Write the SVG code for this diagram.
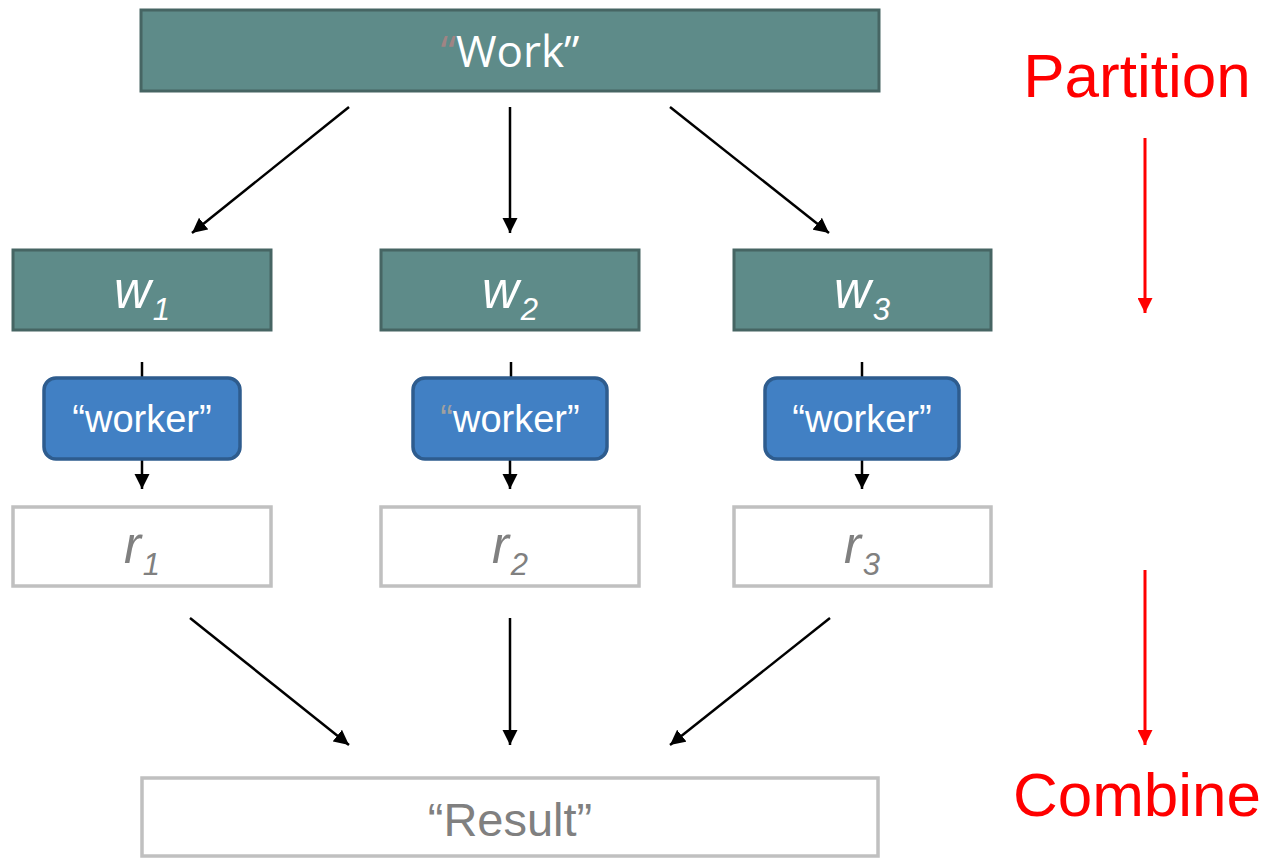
<svg xmlns="http://www.w3.org/2000/svg" width="1270" height="858" viewBox="0 0 1270 858">
<defs>
<marker id="ah" viewBox="0 0 10 10" refX="10" refY="5" markerWidth="6" markerHeight="6.6" markerUnits="strokeWidth" orient="auto">
<path d="M0,0 L10,5 L0,10 z" fill="#000"/>
</marker>
<marker id="ahr" viewBox="0 0 10 10" refX="10" refY="5" markerWidth="5" markerHeight="5" markerUnits="strokeWidth" orient="auto">
<path d="M0,0 L10,5 L0,10 z" fill="#ff0000"/>
</marker>
</defs>
<style>
.teal{fill:#5e8b89;stroke:#466563;stroke-width:3}
.blue{fill:#4180c4;stroke:#2e5c8e;stroke-width:3.5}
.gray{fill:#fff;stroke:#c0c0c0;stroke-width:3.5}
.t{font-family:"Liberation Sans",Arial,sans-serif;text-anchor:middle}
.wt{fill:#fff;font-style:italic;font-size:51px}
.rt{fill:#808080;font-style:italic;font-size:51px}
.sub{font-size:31px}
.wk{fill:#fff;font-size:38px}
.red{fill:#ff0000;font-size:62px}
.con{stroke:#000;stroke-width:2.5;fill:none;marker-end:url(#ah)}
.plain{stroke:#000;stroke-width:2.5;fill:none}
.rcon{stroke:#ff0000;stroke-width:3;fill:none;marker-end:url(#ahr)}
</style>
<rect width="1270" height="858" fill="#fff"/>

<g id="connectors">
<line class="con" x1="349" y1="107" x2="192" y2="233"/>
<line class="con" x1="510" y1="107" x2="510" y2="233"/>
<line class="con" x1="670" y1="107" x2="829" y2="233"/>
<line class="plain" x1="142" y1="362" x2="142" y2="378"/>
<line class="plain" x1="511" y1="362" x2="511" y2="378"/>
<line class="plain" x1="862" y1="362" x2="862" y2="378"/>
<line class="con" x1="142" y1="459" x2="142" y2="489"/>
<line class="con" x1="510" y1="459" x2="510" y2="489"/>
<line class="con" x1="862" y1="459" x2="862" y2="489"/>
<line class="con" x1="190" y1="618" x2="349" y2="745"/>
<line class="con" x1="510" y1="618" x2="510" y2="745"/>
<line class="con" x1="830" y1="618" x2="670" y2="745"/>
<line class="rcon" x1="1145" y1="138" x2="1145" y2="313"/>
<line class="rcon" x1="1145" y1="570" x2="1145" y2="745"/>
</g>

<g id="work">
<rect class="teal" x="141" y="10" width="738" height="81"/>
<text class="t" x="510" y="67" style="font-family:'Open Sans','Liberation Sans',sans-serif;font-size:44px;fill:#fff"><tspan fill="#a08484">“</tspan>Work”</text>
</g>

<g id="w1">
<rect class="teal" x="13" y="250" width="258" height="80"/>
<text class="t wt" x="142" y="308">w<tspan class="sub" dx="2" dy="12">1</tspan></text>
</g>
<g id="w2">
<rect class="teal" x="381" y="250" width="258" height="80"/>
<text class="t wt" x="510" y="308">w<tspan class="sub" dx="2" dy="12">2</tspan></text>
</g>
<g id="w3">
<rect class="teal" x="734" y="250" width="257" height="80"/>
<text class="t wt" x="862" y="308">w<tspan class="sub" dx="2" dy="12">3</tspan></text>
</g>

<g id="worker1">
<rect class="blue" x="44" y="378" width="196" height="81" rx="12"/>
<text class="t wk" x="142" y="432">“worker”</text>
</g>
<g id="worker2">
<rect class="blue" x="413" y="378" width="194" height="81" rx="12"/>
<text class="t wk" x="510" y="432"><tspan fill="#a0a0a0">“</tspan>worker”</text>
</g>
<g id="worker3">
<rect class="blue" x="765" y="378" width="194" height="81" rx="12"/>
<text class="t wk" x="862" y="432">“worker”</text>
</g>

<g id="r1">
<rect class="gray" x="13" y="507" width="258" height="79"/>
<text class="t rt" x="142" y="563">r<tspan class="sub" dx="2" dy="12">1</tspan></text>
</g>
<g id="r2">
<rect class="gray" x="381" y="507" width="258" height="79"/>
<text class="t rt" x="510" y="563">r<tspan class="sub" dx="2" dy="12">2</tspan></text>
</g>
<g id="r3">
<rect class="gray" x="734" y="507" width="257" height="79"/>
<text class="t rt" x="862" y="563">r<tspan class="sub" dx="2" dy="12">3</tspan></text>
</g>

<g id="result">
<rect class="gray" x="142" y="778" width="736" height="78"/>
<text class="t" x="510" y="836" style="fill:#808080;font-size:47px">“Result”</text>
</g>

<g id="partition">
<text class="t red" x="1137" y="97">Partition</text>
</g>
<g id="combine">
<text class="t red" x="1137" y="816">Combine</text>
</g>
</svg>
